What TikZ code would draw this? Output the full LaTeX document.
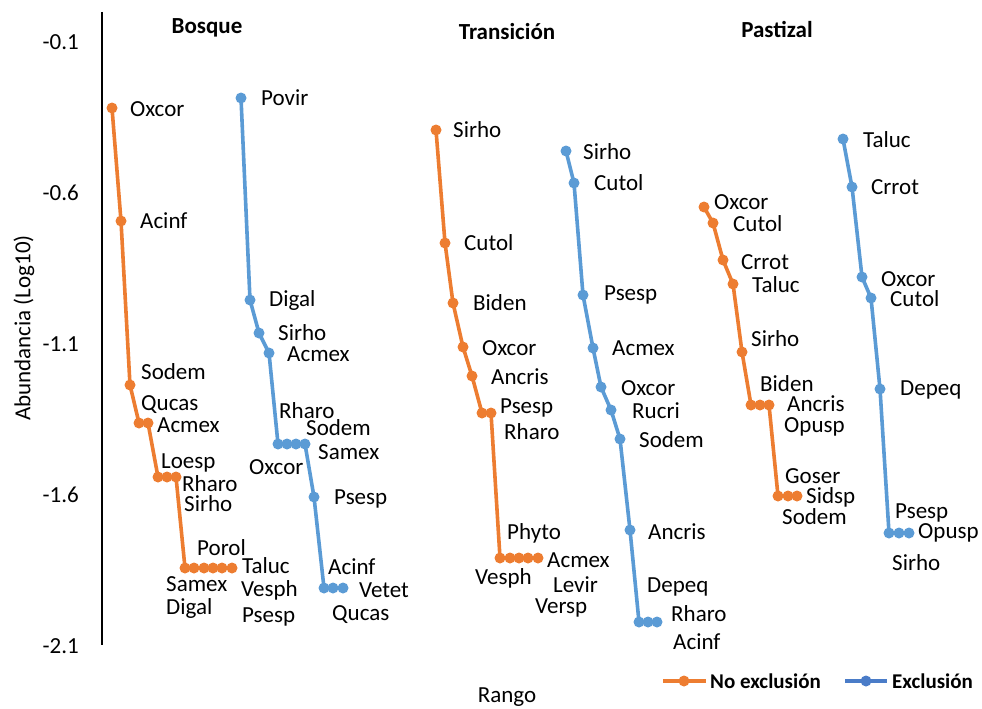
\documentclass[tikz,border=0pt]{standalone}
\usepackage{fontspec}
\setmainfont{Carlito}
\usetikzlibrary{backgrounds}
\definecolor{cor}{HTML}{ED7D31}
\definecolor{cbl}{HTML}{5B9BD5}
\definecolor{cbleg}{HTML}{4A7CC8}
\newcommand\lfont{\fontsize{23}{27}\selectfont}
\newcommand\gfont{\fontsize{21}{25}\selectfont\bfseries}
\tikzset{
  lab/.style={anchor=base west, inner sep=0pt, font=\lfont},
  tick/.style={anchor=base east, inner sep=0pt, font=\lfont},
  ttl/.style={anchor=center, inner sep=0pt, font=\lfont\bfseries},
  omk/.style={circle, fill=cor, inner sep=0pt, minimum size=11pt},
  bmk/.style={circle, fill=cbl, inner sep=0pt, minimum size=11pt},
  oln/.style={draw=cor, line width=3.6pt, line join=round},
  bln/.style={draw=cbl, line width=3.6pt, line join=round},
}
\begin{document}
\begin{tikzpicture}[x=1pt,y=-1pt]
\useasboundingbox (0,0) rectangle (982,709);
% axis
\coordinate (axt) at (102,12);
\coordinate (axb) at (102,645);
\draw[line width=2pt] (axt) -- (axb);
\node[tick] (t1) at (79,49) {-0.1};
\node[tick] (t2) at (79,200) {-0.6};
\node[tick] (t3) at (79,351) {-1.1};
\node[tick] (t4) at (79,502) {-1.6};
\node[tick] (t5) at (79,653) {-2.1};
\node[rotate=90, inner sep=0pt, font=\lfont] (ylab) at (24,328) {Abundancia (Log10)};
\node[inner sep=0pt, font=\lfont] (xlab) at (507,697) {Rango};
% titles
\node[ttl] (ttB) at (207,28) {Bosque};
\node[ttl] (ttT) at (507,32) {Transición};
\node[ttl] (ttP) at (777,29) {Pastizal};

% ---------- Bosque, no exclusion
\node[omk] (ob1) at (112,108) {};
\node[omk] (ob2) at (121,221) {};
\node[omk] (ob3) at (130,385) {};
\node[omk] (ob4) at (139,423) {};
\node[omk] (ob5) at (148,423) {};
\node[omk] (ob6) at (158,477) {};
\node[omk] (ob7) at (167,477) {};
\node[omk] (ob8) at (176,477) {};
\node[omk] (ob9) at (185,568) {};
\node[omk] (ob10) at (194,568) {};
\node[omk] (ob11) at (204,568) {};
\node[omk] (ob12) at (213,568) {};
\node[omk] (ob13) at (222,568) {};
\node[omk] (ob14) at (232,568) {};
\begin{pgfonlayer}{background}
\draw[oln] (ob1.center) -- (ob2.center) -- (ob3.center) -- (ob4.center) -- (ob5.center) -- (ob6.center) -- (ob7.center) -- (ob8.center) -- (ob9.center) -- (ob10.center) -- (ob11.center) -- (ob12.center) -- (ob13.center) -- (ob14.center);
\end{pgfonlayer}
\node[lab] (lob1) at (130,116) {Oxcor};
\node[lab] (lob2) at (140,228) {Acinf};
\node[lab] (lob3) at (141,379) {Sodem};
\node[lab] (lob4) at (141,410) {Qucas};
\node[lab] (lob5) at (157,432) {Acmex};
\node[lab] (lob6) at (161,468) {Loesp};
\node[lab] (lob7) at (182,491) {Rharo};
\node[lab] (lob8) at (184,511) {Sirho};
\node[lab] (lob9) at (197,555) {Porol};
\node[lab] (lob10) at (242,573) {Taluc};
\node[lab] (lob11) at (166,591) {Samex};
\node[lab] (lob12) at (241,596) {Vesph};
\node[lab] (lob13) at (166,614) {Digal};
\node[lab] (lob14) at (242,622) {Psesp};

% ---------- Bosque, exclusion
\node[bmk] (bb1) at (241,98) {};
\node[bmk] (bb2) at (250,300) {};
\node[bmk] (bb3) at (259,333) {};
\node[bmk] (bb4) at (269,353) {};
\node[bmk] (bb5) at (278,444) {};
\node[bmk] (bb6) at (287,444) {};
\node[bmk] (bb7) at (296,444) {};
\node[bmk] (bb8) at (305,444) {};
\node[bmk] (bb9) at (314,497) {};
\node[bmk] (bb10) at (324,588) {};
\node[bmk] (bb11) at (333,588) {};
\node[bmk] (bb12) at (343,588) {};
\begin{pgfonlayer}{background}
\draw[bln] (bb1.center) -- (bb2.center) -- (bb3.center) -- (bb4.center) -- (bb5.center) -- (bb6.center) -- (bb7.center) -- (bb8.center) -- (bb9.center) -- (bb10.center) -- (bb11.center) -- (bb12.center);
\end{pgfonlayer}
\node[lab] (lbb1) at (261,105) {Povir};
\node[lab] (lbb2) at (269,306) {Digal};
\node[lab] (lbb3) at (278,340) {Sirho};
\node[lab] (lbb4) at (287,361) {Acmex};
\node[lab] (lbb5) at (279,418) {Rharo};
\node[lab] (lbb6) at (306,435) {Sodem};
\node[lab] (lbb7) at (318,459) {Samex};
\node[lab] (lbb8) at (249,474) {Oxcor};
\node[lab] (lbb9) at (334,504) {Psesp};
\node[lab] (lbb10) at (328,574) {Acinf};
\node[lab] (lbb11) at (359,597) {Vetet};
\node[lab] (lbb12) at (332,620) {Qucas};

% ---------- Transicion, no exclusion
\node[omk] (ot1) at (436,130) {};
\node[omk] (ot2) at (445,243) {};
\node[omk] (ot3) at (453,303) {};
\node[omk] (ot4) at (463,347) {};
\node[omk] (ot5) at (472,376) {};
\node[omk] (ot6) at (482,413) {};
\node[omk] (ot7) at (491,413) {};
\node[omk] (ot8) at (500,558) {};
\node[omk] (ot9) at (510,558) {};
\node[omk] (ot10) at (519,558) {};
\node[omk] (ot11) at (528,558) {};
\node[omk] (ot12) at (538,558) {};
\begin{pgfonlayer}{background}
\draw[oln] (ot1.center) -- (ot2.center) -- (ot3.center) -- (ot4.center) -- (ot5.center) -- (ot6.center) -- (ot7.center) -- (ot8.center) -- (ot9.center) -- (ot10.center) -- (ot11.center) -- (ot12.center);
\end{pgfonlayer}
\node[lab] (lot1) at (453,137) {Sirho};
\node[lab] (lot2) at (464,250) {Cutol};
\node[lab] (lot3) at (473,310) {Biden};
\node[lab] (lot4) at (482,355) {Oxcor};
\node[lab] (lot5) at (491,384) {Ancris};
\node[lab] (lot6) at (500,413) {Psesp};
\node[lab] (lot7) at (504,439) {Rharo};
\node[lab] (lot8) at (475,584) {Vesph};
\node[lab] (lot9) at (507,539) {Phyto};
\node[lab] (lot10) at (547,567) {Acmex};
\node[lab] (lot11) at (553,592) {Levir};
\node[lab] (lot12) at (535,613) {Versp};

% ---------- Transicion, exclusion
\node[bmk] (bt1) at (566,151) {};
\node[bmk] (bt2) at (574,183) {};
\node[bmk] (bt3) at (583,295) {};
\node[bmk] (bt4) at (593,348) {};
\node[bmk] (bt5) at (601,387) {};
\node[bmk] (bt6) at (611,410) {};
\node[bmk] (bt7) at (620,439) {};
\node[bmk] (bt8) at (630,530) {};
\node[bmk] (bt9) at (639,622) {};
\node[bmk] (bt10) at (648,622) {};
\node[bmk] (bt11) at (657,622) {};
\begin{pgfonlayer}{background}
\draw[bln] (bt1.center) -- (bt2.center) -- (bt3.center) -- (bt4.center) -- (bt5.center) -- (bt6.center) -- (bt7.center) -- (bt8.center) -- (bt9.center) -- (bt10.center) -- (bt11.center);
\end{pgfonlayer}
\node[lab] (lbt1) at (583,159) {Sirho};
\node[lab] (lbt2) at (594,190) {Cutol};
\node[lab] (lbt3) at (604,300) {Psesp};
\node[lab] (lbt4) at (612,355) {Acmex};
\node[lab] (lbt5) at (621,395) {Oxcor};
\node[lab] (lbt6) at (632,418) {Rucri};
\node[lab] (lbt7) at (639,447) {Sodem};
\node[lab] (lbt8) at (648,539) {Ancris};
\node[lab] (lbt9) at (647,592) {Depeq};
\node[lab] (lbt10) at (671,621) {Rharo};
\node[lab] (lbt11) at (673,649) {Acinf};

% ---------- Pastizal, no exclusion
\node[omk] (op1) at (704,207) {};
\node[omk] (op2) at (713,223) {};
\node[omk] (op3) at (723,260) {};
\node[omk] (op4) at (733,284) {};
\node[omk] (op5) at (742,352) {};
\node[omk] (op6) at (751,405) {};
\node[omk] (op7) at (760,405) {};
\node[omk] (op8) at (769,405) {};
\node[omk] (op9) at (778,496) {};
\node[omk] (op10) at (788,496) {};
\node[omk] (op11) at (797,496) {};
\begin{pgfonlayer}{background}
\draw[oln] (op1.center) -- (op2.center) -- (op3.center) -- (op4.center) -- (op5.center) -- (op6.center) -- (op7.center) -- (op8.center) -- (op9.center) -- (op10.center) -- (op11.center);
\end{pgfonlayer}
\node[lab] (lop1) at (714,209) {Oxcor};
\node[lab] (lop2) at (733,231) {Cutol};
\node[lab] (lop3) at (741,269) {Crrot};
\node[lab] (lop4) at (752,292) {Taluc};
\node[lab] (lop5) at (751,346) {Sirho};
\node[lab] (lop6) at (760,391) {Biden};
\node[lab] (lop7) at (787,411) {Ancris};
\node[lab] (lop8) at (784,432) {Opusp};
\node[lab] (lop9) at (785,483) {Goser};
\node[lab] (lop10) at (806,503) {Sidsp};
\node[lab] (lop11) at (782,524) {Sodem};

% ---------- Pastizal, exclusion
\node[bmk] (bp1) at (843,139) {};
\node[bmk] (bp2) at (852,187) {};
\node[bmk] (bp3) at (862,277) {};
\node[bmk] (bp4) at (871,298) {};
\node[bmk] (bp5) at (880,389) {};
\node[bmk] (bp6) at (889,533) {};
\node[bmk] (bp7) at (899,533) {};
\node[bmk] (bp8) at (909,533) {};
\begin{pgfonlayer}{background}
\draw[bln] (bp1.center) -- (bp2.center) -- (bp3.center) -- (bp4.center) -- (bp5.center) -- (bp6.center) -- (bp7.center) -- (bp8.center);
\end{pgfonlayer}
\node[lab] (lbp1) at (863,147) {Taluc};
\node[lab] (lbp2) at (871,194) {Crrot};
\node[lab] (lbp3) at (881,286) {Oxcor};
\node[lab] (lbp4) at (890,306) {Cutol};
\node[lab] (lbp5) at (900,395) {Depeq};
\node[lab] (lbp6) at (895,518) {Psesp};
\node[lab] (lbp7) at (918,538) {Opusp};
\node[lab] (lbp8) at (892,570) {Sirho};

% ---------- legend
\coordinate (lo1) at (663,681);
\coordinate (lo2) at (706,681);
\node[omk] (lom) at (684,681) {};
\begin{pgfonlayer}{background}
\draw[oln] (lo1) -- (lo2);
\end{pgfonlayer}
\node[anchor=west, inner sep=0pt, font=\gfont] (lot) at (710,681) {No exclusión};
\coordinate (lb1) at (845,681);
\coordinate (lb2) at (887,681);
\node[circle, fill=cbleg, inner sep=0pt, minimum size=11pt] (lbm) at (866,681) {};
\begin{pgfonlayer}{background}
\draw[draw=cbleg, line width=3.6pt] (lb1) -- (lb2);
\end{pgfonlayer}
\node[anchor=west, inner sep=0pt, font=\gfont] (lbt) at (892,681) {Exclusión};
\end{tikzpicture}
\end{document}
